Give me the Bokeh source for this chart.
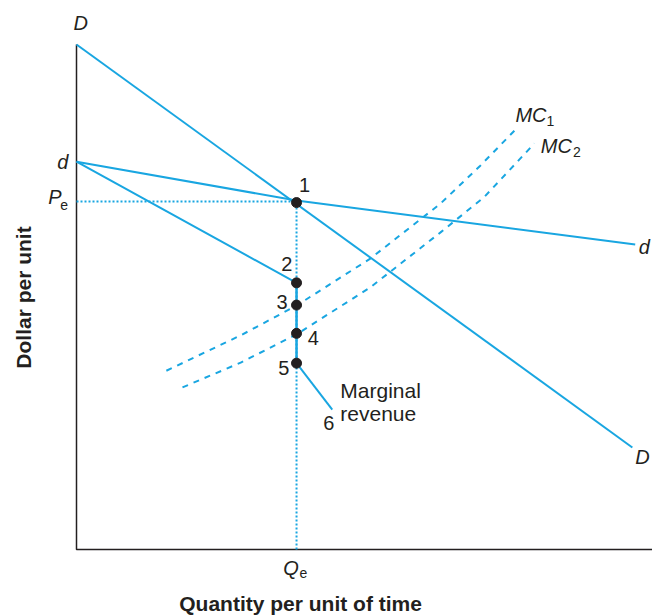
import math
from bokeh.plotting import figure
from bokeh.models import Range1d, Label
from bokeh.embed import file_html
from bokeh.resources import INLINE

# ---------------- data (quantity 0-100, dollar 0-100) ----------------
Q_E = 38.2
P_E = 68.9

axis_q = [0.0, 0.0, 100.0]
axis_p = [100.0, 0.0, 0.0]

demand_D_q = [0.0, 96.5]
demand_D_p = [100.0, 20.2]

demand_d_q = [0.0, 38.2, 97.0]
demand_d_p = [76.8, 69.1, 60.4]

mr_upper_q = [0.0, 38.2]
mr_upper_p = [76.8, 52.8]
mr_gap_q = [38.2, 38.2]
mr_gap_p = [52.8, 36.9]
mr_lower_q = [38.2, 44.4]
mr_lower_p = [36.9, 27.7]

mc1_q = [15.6, 28.5, 38.2, 51.0, 63.2, 70.1, 76.6]
mc1_p = [35.4, 42.4, 48.3, 57.6, 68.5, 76.0, 83.6]
mc2_q = [18.4, 28.5, 38.2, 51.0, 63.2, 70.7, 79.5]
mc2_p = [32.1, 37.0, 42.6, 51.9, 62.8, 69.7, 80.4]

point_q = [38.2, 38.2, 38.2, 38.2, 38.2]
point_p = [68.7, 52.8, 48.4, 42.8, 36.9]

point_labels = ["1", "2", "3", "4", "5", "6"]
point_label_q = [39.6, 36.5, 35.7, 41.1, 36.0, 43.8]
point_label_p = [72.1, 56.6, 49.1, 41.8, 35.9, 25.0]

BLUE = "#19a6e1"
INK = "#231f20"
FONT = "Liberation Sans"

# frame covers whole canvas; 5.76 px per quantity unit, 5.05 px per dollar unit
p = figure(width=652, height=616, output_backend="svg", toolbar_location=None,
           x_range=Range1d(-76 / 5.76, 576 / 5.76),
           y_range=Range1d(-67 / 5.05, 549 / 5.05),
           x_axis_location=None, y_axis_location=None,
           min_border=0, min_border_left=0, min_border_right=0,
           min_border_top=0, min_border_bottom=0)
p.grid.visible = False
p.outline_line_color = None
p.background_fill_color = "white"
p.border_fill_color = "white"

# axes
p.line(axis_q, axis_p, line_color=INK, line_width=1.5)

# dotted guides
p.line([0, Q_E], [P_E, P_E], line_color=BLUE, line_width=2, line_dash="2 2")
p.line([Q_E, Q_E], [0, P_E], line_color=BLUE, line_width=2, line_dash="2 2")

# MC curves
p.line(mc1_q, mc1_p, line_color=BLUE, line_width=2, line_dash="6 6")
p.line(mc2_q, mc2_p, line_color=BLUE, line_width=2, line_dash="6 6")

# demand curves
p.line(demand_D_q, demand_D_p, line_color=BLUE, line_width=2)
p.line(demand_d_q, demand_d_p, line_color=BLUE, line_width=2)

# marginal revenue
p.line(mr_upper_q, mr_upper_p, line_color=BLUE, line_width=2)
p.line(mr_gap_q, mr_gap_p, line_color=BLUE, line_width=2.5)
p.line(mr_lower_q, mr_lower_p, line_color=BLUE, line_width=2)

p.scatter(point_q, point_p, size=10, fill_color=INK, line_color=INK)


def lab(x, y, text, size="20px", style="normal", align="left",
        baseline="alphabetic", angle=0.0):
    p.add_layout(Label(x=x, y=y, x_units="data", y_units="data", text=text,
                       text_font=FONT, text_font_size=size,
                       text_font_style=style, text_align=align,
                       text_baseline=baseline, text_color=INK, angle=angle))


for t, xq, yp in zip(point_labels, point_label_q, point_label_p):
    lab(xq, yp, t, align="center")

lab(45.8, 31.5, "Marginal", size="21px")
lab(45.8, 26.9, "revenue", size="21px")

# curve letters
lab(-0.5, 104.2, "D", style="italic")
lab(-1.4, 76.8, "d", style="italic", align="right")
lab(97.6, 60.0, "d", style="italic")
lab(97.0, 18.4, "D", style="italic")

lab(76.2, 86.0, "MC", style="italic")
lab(81.6, 84.8, "1", size="14px")
lab(80.6, 80.0, "MC", style="italic")
lab(86.2, 78.8, "2", size="14px")

lab(-2.6, 69.9, "P", style="italic", align="right")
lab(-2.8, 68.3, "e", size="14px")
lab(35.9, -3.7, "Q", style="italic")
lab(38.7, -4.7, "e", size="14px")

# axis titles
lab(38.9, -10.7, "Quantity per unit of time", size="21px", style="bold",
    align="center")
lab(-9.2, 49.9, "Dollar per unit", size="21px", style="bold",
    align="center", baseline="middle", angle=math.pi / 2)

open("out.html", "w").write(file_html(p, INLINE))
